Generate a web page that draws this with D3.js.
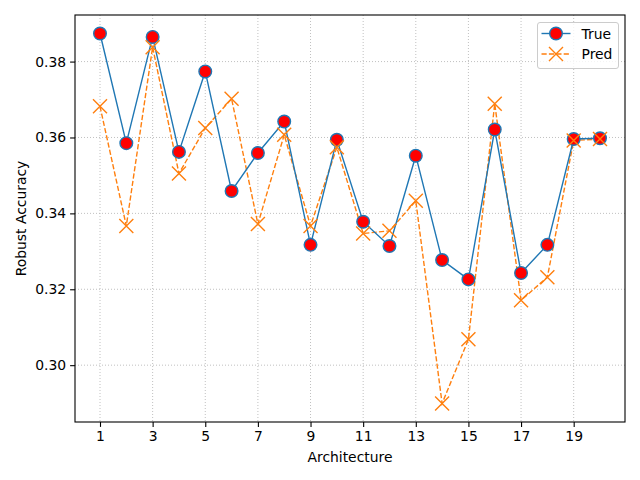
<!DOCTYPE html>
<html>
<head>
<meta charset="utf-8">
<script src="https://cdn.jsdelivr.net/npm/d3@7"></script>
<style>
  body { margin: 0; background: #fff; }
  svg text { font-family: "DejaVu Sans", sans-serif; fill: #000; }
</style>
</head>
<body>
<div id="chart"></div>
<script>
const width = 640;
const height = 480;
const margin = { top: 15, right: 15, bottom: 58, left: 75 };

const architectures = d3.range(1, 21);
const trueAcc = [0.3874, 0.3585, 0.3865, 0.3562, 0.3774, 0.3459, 0.3559, 0.3642, 0.3317, 0.3594,
                 0.3378, 0.3314, 0.3552, 0.3277, 0.3226, 0.3621, 0.3243, 0.3317, 0.3596, 0.3598];
const predAcc = [0.3682, 0.3367, 0.3838, 0.3505, 0.3625, 0.3702, 0.3372, 0.3607, 0.3367, 0.3574,
                 0.3347, 0.3354, 0.3433, 0.2899, 0.3068, 0.3689, 0.3171, 0.3232, 0.3592, 0.3596];
const xTicks = [1, 3, 5, 7, 9, 11, 13, 15, 17, 19];
const yTicks = [0.30, 0.32, 0.34, 0.36, 0.38];

const blue = "#1f77b4";
const orange = "#ff7f0e";

const svg = d3.select("#chart").append("svg")
    .attr("width", width)
    .attr("height", height);

// matplotlib style 5% margins
const allVals = trueAcc.concat(predAcc);
const [yMin, yMax] = d3.extent(allVals);
const yPad = (yMax - yMin) * 0.05;
const xPad = (20 - 1) * 0.05;

const x = d3.scaleLinear()
    .domain([1 - xPad, 20 + xPad])
    .range([margin.left, width - margin.right]);

const y = d3.scaleLinear()
    .domain([yMin - yPad, yMax + yPad])
    .range([height - margin.bottom, margin.top]);

// grid
const grid = svg.append("g").attr("stroke", "#b0b0b0").attr("stroke-width", 0.8)
    .attr("stroke-dasharray", "1,2");
xTicks.forEach(t => {
    grid.append("line").attr("x1", x(t)).attr("x2", x(t))
        .attr("y1", margin.top).attr("y2", height - margin.bottom);
});
yTicks.forEach(t => {
    grid.append("line").attr("y1", y(t)).attr("y2", y(t))
        .attr("x1", margin.left).attr("x2", width - margin.right);
});

// Axes Start Here.
const xAxis = svg.append("g")
    .attr("transform", `translate(0,${height - margin.bottom})`)
    .call(d3.axisBottom(x).tickValues(xTicks).tickSize(4.9).tickPadding(4).tickFormat(d3.format("d")));
const yAxis = svg.append("g")
    .attr("transform", `translate(${margin.left},0)`)
    .call(d3.axisLeft(y).tickValues(yTicks).tickSize(4.9).tickPadding(4).tickFormat(d3.format(".2f")));

[xAxis, yAxis].forEach(g => {
    g.select(".domain").remove();
    g.selectAll(".tick line").attr("stroke", "#000").attr("stroke-width", 1.1);
    g.selectAll(".tick text").attr("font-size", 13.9).attr("font-family", "DejaVu Sans");
});

// frame
svg.append("rect")
    .attr("x", margin.left).attr("y", margin.top)
    .attr("width", width - margin.left - margin.right)
    .attr("height", height - margin.top - margin.bottom)
    .attr("fill", "none").attr("stroke", "#000").attr("stroke-width", 1.1);

svg.append("text")
    .attr("x", (margin.left + width - margin.right) / 2)
    .attr("y", 462)
    .attr("text-anchor", "middle")
    .attr("font-size", 13.9)
    .text("Architecture");

svg.append("text")
    .attr("transform", "rotate(-90)")
    .attr("x", -(margin.top + height - margin.bottom) / 2)
    .attr("y", 26)
    .attr("text-anchor", "middle")
    .attr("font-size", 13.9)
    .text("Robust Accuracy");

const line = d3.line()
    .x((d, i) => x(architectures[i]))
    .y(d => y(d));

// Pred series
svg.append("path")
    .datum(predAcc)
    .attr("fill", "none")
    .attr("stroke", orange)
    .attr("stroke-width", 1.4)
    .attr("stroke-dasharray", "5.2,2.2")
    .attr("d", line);

function xMark(g, cx, cy, r) {
    g.append("path")
        .attr("d", `M${cx - r},${cy - r}L${cx + r},${cy + r}M${cx - r},${cy + r}L${cx + r},${cy - r}`)
        .attr("stroke", orange).attr("stroke-width", 1.4).attr("fill", "none");
}

// True series
svg.append("path")
    .datum(trueAcc)
    .attr("fill", "none")
    .attr("stroke", blue)
    .attr("stroke-width", 1.4)
    .attr("d", line);

svg.append("g").selectAll("circle")
    .data(trueAcc)
    .join("circle")
    .attr("cx", (d, i) => x(architectures[i]))
    .attr("cy", d => y(d))
    .attr("r", 6.3)
    .attr("fill", "red")
    .attr("stroke", blue)
    .attr("stroke-width", 1.4);

const predMarks = svg.append("g");
predAcc.forEach((d, i) => xMark(predMarks, x(architectures[i]), y(d), 7));

// legend
const lg = svg.append("g").attr("transform", "translate(537.5,22.5)");
lg.append("rect")
    .attr("width", 81).attr("height", 46).attr("rx", 2.5)
    .attr("fill", "#fff").attr("fill-opacity", 0.8)
    .attr("stroke", "#cccccc").attr("stroke-width", 1);
lg.append("line").attr("x1", 4).attr("x2", 33).attr("y1", 11).attr("y2", 11)
    .attr("stroke", blue).attr("stroke-width", 1.4);
lg.append("circle").attr("cx", 18.5).attr("cy", 11).attr("r", 6.3)
    .attr("fill", "red").attr("stroke", blue).attr("stroke-width", 1.4);
lg.append("line").attr("x1", 4).attr("x2", 33).attr("y1", 31.5).attr("y2", 31.5)
    .attr("stroke", orange).attr("stroke-width", 1.4).attr("stroke-dasharray", "5.2,2.2");
xMark(lg, 18.5, 31.5, 7);
lg.append("text").attr("x", 44).attr("y", 16).attr("font-size", 13.9).text("True");
lg.append("text").attr("x", 44).attr("y", 36.5).attr("font-size", 13.9).text("Pred");
</script>
</body>
</html>
